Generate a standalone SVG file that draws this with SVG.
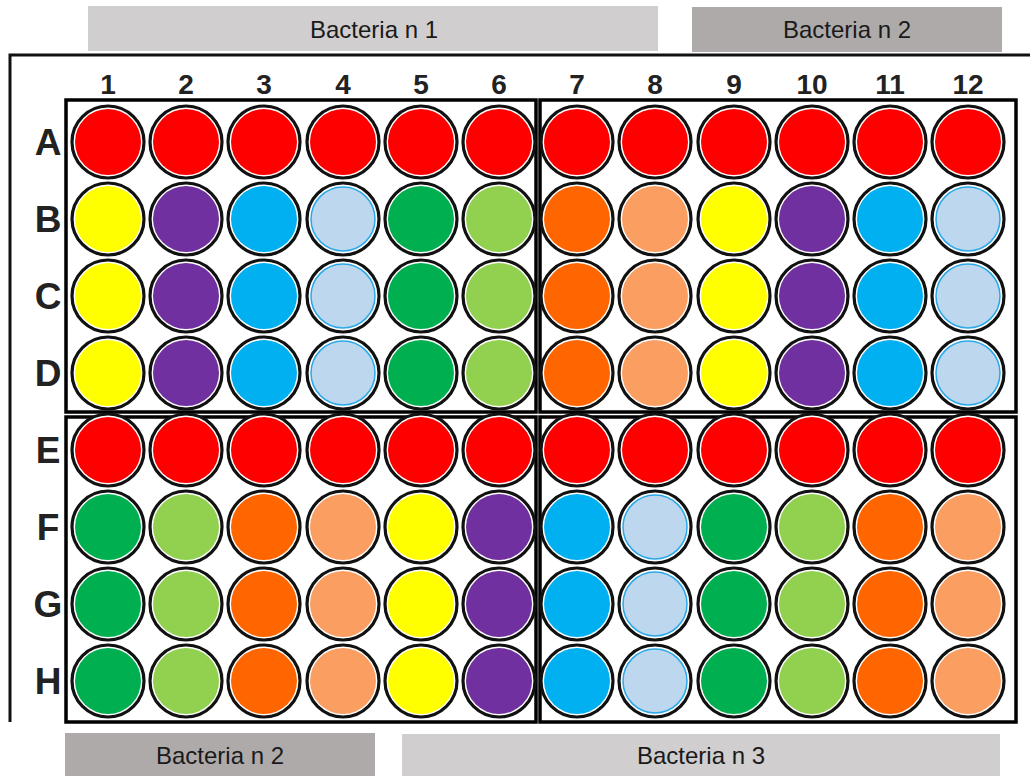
<svg xmlns="http://www.w3.org/2000/svg" width="1030" height="776" viewBox="0 0 1030 776">
<style>
.ban1{fill:#d0cece}
.ban2{fill:#aeaaaa}
.bt{font-family:"Liberation Sans",Arial,sans-serif;font-size:24px;fill:#1a1a1a;text-anchor:middle}
.lbl{font-family:"Liberation Sans",Arial,sans-serif;font-size:28px;font-weight:bold;fill:#222;text-anchor:middle}
.rl{font-family:"Liberation Sans",Arial,sans-serif;font-size:37px;font-weight:bold;fill:#222;text-anchor:middle}
.box{fill:none;stroke:#000;stroke-width:3.5}
.ring{fill:#fff;stroke:#111;stroke-width:3.2}
.r{fill:#ff0000}.y{fill:#ffff00}.p{fill:#7030a0}.b{fill:#00b0f0}
.lb{fill:#bdd7ee;stroke:#2aa8e8;stroke-width:1.5}
.g{fill:#00b050}.lg{fill:#92d050}.o{fill:#ff6600}.lo{fill:#fa9e62}
</style>
<defs>
<g id="ring"><circle r="36" class="ring"/></g>
</defs>
<g id="banners">
<rect class="ban1" x="88" y="6" width="570" height="45"/>
<text class="bt" x="374" y="38">Bacteria n 1</text>
<rect class="ban2" x="692" y="7" width="310" height="45"/>
<text class="bt" x="847" y="38">Bacteria n 2</text>
<rect class="ban2" x="65" y="733" width="310" height="43"/>
<text class="bt" x="220" y="764">Bacteria n 2</text>
<rect class="ban1" x="402" y="734" width="598" height="42"/>
<text class="bt" x="701" y="764">Bacteria n 3</text>
</g>
<g id="plate">
<path d="M1030 55 H10 V722" fill="none" stroke="#111" stroke-width="3"/>
<rect class="box" x="66" y="100" width="470" height="312"/>
<rect class="box" x="540" y="100" width="476" height="312"/>
<rect class="box" x="66" y="417" width="470" height="305"/>
<rect class="box" x="540" y="417" width="476" height="305"/>
</g>
<g id="col-labels" class="lbl">
<text x="108" y="94">1</text><text x="186" y="94">2</text><text x="264" y="94">3</text><text x="343" y="94">4</text><text x="421" y="94">5</text><text x="499" y="94">6</text><text x="577" y="94">7</text><text x="655" y="94">8</text><text x="734" y="94">9</text><text x="812" y="94">10</text><text x="890" y="94">11</text><text x="968" y="94">12</text>
</g>
<g id="row-labels" class="rl">
<text x="48" y="155">A</text><text x="48" y="232">B</text><text x="48" y="309">C</text><text x="48" y="386">D</text><text x="48" y="463">E</text><text x="48" y="540">F</text><text x="48" y="617">G</text><text x="48" y="694">H</text>
</g>
<g id="rows">
<g id="row-A">
<g transform="translate(108,142)"><use href="#ring"/><circle r="33" class="r"/></g>
<g transform="translate(186,142)"><use href="#ring"/><circle r="33" class="r"/></g>
<g transform="translate(264,142)"><use href="#ring"/><circle r="33" class="r"/></g>
<g transform="translate(343,142)"><use href="#ring"/><circle r="33" class="r"/></g>
<g transform="translate(421,142)"><use href="#ring"/><circle r="33" class="r"/></g>
<g transform="translate(499,142)"><use href="#ring"/><circle r="33" class="r"/></g>
<g transform="translate(577,142)"><use href="#ring"/><circle r="33" class="r"/></g>
<g transform="translate(655,142)"><use href="#ring"/><circle r="33" class="r"/></g>
<g transform="translate(734,142)"><use href="#ring"/><circle r="33" class="r"/></g>
<g transform="translate(812,142)"><use href="#ring"/><circle r="33" class="r"/></g>
<g transform="translate(890,142)"><use href="#ring"/><circle r="33" class="r"/></g>
<g transform="translate(968,142)"><use href="#ring"/><circle r="33" class="r"/></g>
</g>
<g id="row-B">
<g transform="translate(108,219)"><use href="#ring"/><circle r="33" class="y"/></g>
<g transform="translate(186,219)"><use href="#ring"/><circle r="33" class="p"/></g>
<g transform="translate(264,219)"><use href="#ring"/><circle r="33" class="b"/></g>
<g transform="translate(343,219)"><use href="#ring"/><circle r="32" class="lb"/></g>
<g transform="translate(421,219)"><use href="#ring"/><circle r="33" class="g"/></g>
<g transform="translate(499,219)"><use href="#ring"/><circle r="33" class="lg"/></g>
<g transform="translate(577,219)"><use href="#ring"/><circle r="33" class="o"/></g>
<g transform="translate(655,219)"><use href="#ring"/><circle r="33" class="lo"/></g>
<g transform="translate(734,219)"><use href="#ring"/><circle r="33" class="y"/></g>
<g transform="translate(812,219)"><use href="#ring"/><circle r="33" class="p"/></g>
<g transform="translate(890,219)"><use href="#ring"/><circle r="33" class="b"/></g>
<g transform="translate(968,219)"><use href="#ring"/><circle r="32" class="lb"/></g>
</g>
<g id="row-C">
<g transform="translate(108,296)"><use href="#ring"/><circle r="33" class="y"/></g>
<g transform="translate(186,296)"><use href="#ring"/><circle r="33" class="p"/></g>
<g transform="translate(264,296)"><use href="#ring"/><circle r="33" class="b"/></g>
<g transform="translate(343,296)"><use href="#ring"/><circle r="32" class="lb"/></g>
<g transform="translate(421,296)"><use href="#ring"/><circle r="33" class="g"/></g>
<g transform="translate(499,296)"><use href="#ring"/><circle r="33" class="lg"/></g>
<g transform="translate(577,296)"><use href="#ring"/><circle r="33" class="o"/></g>
<g transform="translate(655,296)"><use href="#ring"/><circle r="33" class="lo"/></g>
<g transform="translate(734,296)"><use href="#ring"/><circle r="33" class="y"/></g>
<g transform="translate(812,296)"><use href="#ring"/><circle r="33" class="p"/></g>
<g transform="translate(890,296)"><use href="#ring"/><circle r="33" class="b"/></g>
<g transform="translate(968,296)"><use href="#ring"/><circle r="32" class="lb"/></g>
</g>
<g id="row-D">
<g transform="translate(108,373)"><use href="#ring"/><circle r="33" class="y"/></g>
<g transform="translate(186,373)"><use href="#ring"/><circle r="33" class="p"/></g>
<g transform="translate(264,373)"><use href="#ring"/><circle r="33" class="b"/></g>
<g transform="translate(343,373)"><use href="#ring"/><circle r="32" class="lb"/></g>
<g transform="translate(421,373)"><use href="#ring"/><circle r="33" class="g"/></g>
<g transform="translate(499,373)"><use href="#ring"/><circle r="33" class="lg"/></g>
<g transform="translate(577,373)"><use href="#ring"/><circle r="33" class="o"/></g>
<g transform="translate(655,373)"><use href="#ring"/><circle r="33" class="lo"/></g>
<g transform="translate(734,373)"><use href="#ring"/><circle r="33" class="y"/></g>
<g transform="translate(812,373)"><use href="#ring"/><circle r="33" class="p"/></g>
<g transform="translate(890,373)"><use href="#ring"/><circle r="33" class="b"/></g>
<g transform="translate(968,373)"><use href="#ring"/><circle r="32" class="lb"/></g>
</g>
<g id="row-E">
<g transform="translate(108,450)"><use href="#ring"/><circle r="33" class="r"/></g>
<g transform="translate(186,450)"><use href="#ring"/><circle r="33" class="r"/></g>
<g transform="translate(264,450)"><use href="#ring"/><circle r="33" class="r"/></g>
<g transform="translate(343,450)"><use href="#ring"/><circle r="33" class="r"/></g>
<g transform="translate(421,450)"><use href="#ring"/><circle r="33" class="r"/></g>
<g transform="translate(499,450)"><use href="#ring"/><circle r="33" class="r"/></g>
<g transform="translate(577,450)"><use href="#ring"/><circle r="33" class="r"/></g>
<g transform="translate(655,450)"><use href="#ring"/><circle r="33" class="r"/></g>
<g transform="translate(734,450)"><use href="#ring"/><circle r="33" class="r"/></g>
<g transform="translate(812,450)"><use href="#ring"/><circle r="33" class="r"/></g>
<g transform="translate(890,450)"><use href="#ring"/><circle r="33" class="r"/></g>
<g transform="translate(968,450)"><use href="#ring"/><circle r="33" class="r"/></g>
</g>
<g id="row-F">
<g transform="translate(108,527)"><use href="#ring"/><circle r="33" class="g"/></g>
<g transform="translate(186,527)"><use href="#ring"/><circle r="33" class="lg"/></g>
<g transform="translate(264,527)"><use href="#ring"/><circle r="33" class="o"/></g>
<g transform="translate(343,527)"><use href="#ring"/><circle r="33" class="lo"/></g>
<g transform="translate(421,527)"><use href="#ring"/><circle r="33" class="y"/></g>
<g transform="translate(499,527)"><use href="#ring"/><circle r="33" class="p"/></g>
<g transform="translate(577,527)"><use href="#ring"/><circle r="33" class="b"/></g>
<g transform="translate(655,527)"><use href="#ring"/><circle r="32" class="lb"/></g>
<g transform="translate(734,527)"><use href="#ring"/><circle r="33" class="g"/></g>
<g transform="translate(812,527)"><use href="#ring"/><circle r="33" class="lg"/></g>
<g transform="translate(890,527)"><use href="#ring"/><circle r="33" class="o"/></g>
<g transform="translate(968,527)"><use href="#ring"/><circle r="33" class="lo"/></g>
</g>
<g id="row-G">
<g transform="translate(108,604)"><use href="#ring"/><circle r="33" class="g"/></g>
<g transform="translate(186,604)"><use href="#ring"/><circle r="33" class="lg"/></g>
<g transform="translate(264,604)"><use href="#ring"/><circle r="33" class="o"/></g>
<g transform="translate(343,604)"><use href="#ring"/><circle r="33" class="lo"/></g>
<g transform="translate(421,604)"><use href="#ring"/><circle r="33" class="y"/></g>
<g transform="translate(499,604)"><use href="#ring"/><circle r="33" class="p"/></g>
<g transform="translate(577,604)"><use href="#ring"/><circle r="33" class="b"/></g>
<g transform="translate(655,604)"><use href="#ring"/><circle r="32" class="lb"/></g>
<g transform="translate(734,604)"><use href="#ring"/><circle r="33" class="g"/></g>
<g transform="translate(812,604)"><use href="#ring"/><circle r="33" class="lg"/></g>
<g transform="translate(890,604)"><use href="#ring"/><circle r="33" class="o"/></g>
<g transform="translate(968,604)"><use href="#ring"/><circle r="33" class="lo"/></g>
</g>
<g id="row-H">
<g transform="translate(108,681)"><use href="#ring"/><circle r="33" class="g"/></g>
<g transform="translate(186,681)"><use href="#ring"/><circle r="33" class="lg"/></g>
<g transform="translate(264,681)"><use href="#ring"/><circle r="33" class="o"/></g>
<g transform="translate(343,681)"><use href="#ring"/><circle r="33" class="lo"/></g>
<g transform="translate(421,681)"><use href="#ring"/><circle r="33" class="y"/></g>
<g transform="translate(499,681)"><use href="#ring"/><circle r="33" class="p"/></g>
<g transform="translate(577,681)"><use href="#ring"/><circle r="33" class="b"/></g>
<g transform="translate(655,681)"><use href="#ring"/><circle r="32" class="lb"/></g>
<g transform="translate(734,681)"><use href="#ring"/><circle r="33" class="g"/></g>
<g transform="translate(812,681)"><use href="#ring"/><circle r="33" class="lg"/></g>
<g transform="translate(890,681)"><use href="#ring"/><circle r="33" class="o"/></g>
<g transform="translate(968,681)"><use href="#ring"/><circle r="33" class="lo"/></g>
</g>
</g>
</svg>
